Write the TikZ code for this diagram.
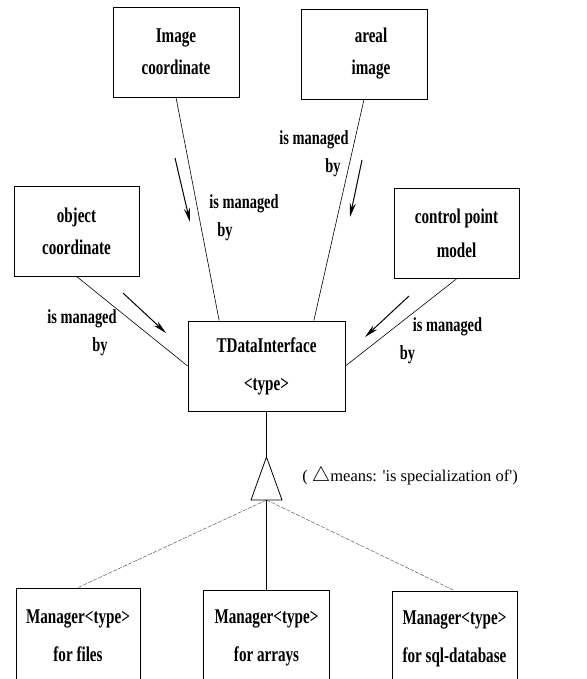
\documentclass[tikz,border=0pt]{standalone}
\usepackage{fontspec}
\setmainfont{Liberation Serif}[FakeStretch=0.72]
\newfontfamily\capfont{Liberation Serif}
\usetikzlibrary{arrows.meta,calc}

\tikzset{
  cls/.style={draw,line width=0.8pt,minimum width=126pt,minimum height=90pt,
    align=center,font=\bfseries\fontsize{21}{32}\selectfont},
  mgr/.style={cls,minimum height=96pt,font=\bfseries\fontsize{21}{38}\selectfont},
  assoc/.style={line width=0.6pt},
  rel/.style={align=left,inner sep=0pt,font=\bfseries\fontsize{20}{28}\selectfont},
  dir/.style={-{Stealth[length=14pt,width=6pt]},line width=1pt},
  spec/.style={line width=0.4pt,black!75,dash pattern=on 4pt off 1.5pt},
}

\begin{document}
\begin{tikzpicture}[x=1pt,y=-1pt]
  \useasboundingbox (0,0) rectangle (586,679);
  \clip (0,0) rectangle (586,679);

  % classes
  \node[cls] (img) at (176,52) {Image\\coordinate};
  \node[cls] (areal) at (364,54) {\hspace*{14pt}areal\\\hspace*{14pt}image};
  \node[cls,minimum width=125pt] (obj) at (76.5,231) {object\\coordinate};
  \node[cls,minimum width=125pt,font=\bfseries\fontsize{21}{34}\selectfont] (ctrl) at (456.5,233.5) {control point\\model};
  \node[cls,minimum width=157pt,font=\bfseries\fontsize{21}{38}\selectfont] (tdi) at (266.5,366) {TDataInterface\\<type>};

  \node[mgr,minimum width=124pt] (files) at (78,636) {Manager<type>\\for files};
  \node[mgr] (arrays) at (266.5,638) {Manager<type>\\for arrays};
  \node[mgr,minimum width=125pt] (sql) at (454.5,639) {Manager<type>\\for sql-database};

  % associations
  \draw[assoc] (img.south) -- ($(tdi.north west)!0.2!(tdi.north east)$);
  \draw[assoc] (areal.south) -- ($(tdi.north west)!0.8!(tdi.north east)$);
  \draw[assoc] (obj.south) -- (tdi.west);
  \draw[assoc] (ctrl.south) -- (tdi.east);

  \node[rel] (lblimg) at (244,218) {is managed\\\hspace*{8pt}by};
  \node[rel] (lblareal) at (314,154) {is managed\\\hspace*{46pt}by};
  \node[rel] (lblobj) at (82,333) {is managed\\\hspace*{45pt}by};
  \node[rel] (lblctrl) at (441,341) {\hspace*{13pt}is managed\\by};

  \draw[dir] (175,158) -- (190,222);
  \draw[dir] (362,160) -- (350,217);
  \draw[dir] (123,293) -- (166,333);
  \draw[dir] (409,296) -- (365,337);

  % specialization
  \coordinate (apex) at (266.5,457);
  \coordinate (base) at (266.5,500);
  \draw[assoc] (tdi.south) -- (apex);
  \draw[line width=0.8pt] (apex) -- (251,500) -- (282,500) -- cycle;
  \draw[assoc] (base) -- (arrays.north);
  \draw[spec] (base) -- (files.north);
  \draw[spec] (base) -- (sql.north);

  \node[font=\capfont\fontsize{16.5}{18}\selectfont] (note) at (410,476)
    {( {\fontsize{21}{21}\selectfont$\bigtriangleup$}means: \textquotesingle is specialization of')};
\end{tikzpicture}
\end{document}
